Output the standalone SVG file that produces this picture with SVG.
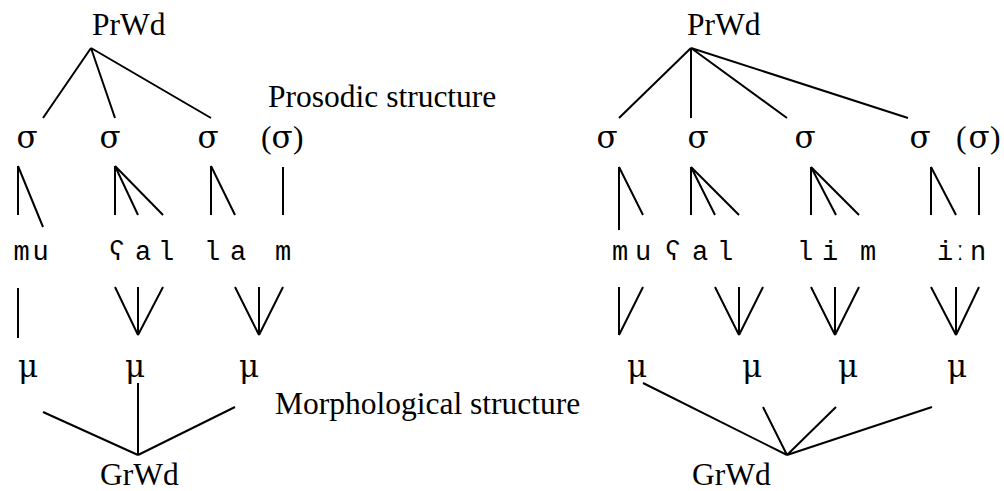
<svg xmlns="http://www.w3.org/2000/svg" width="1004" height="491" viewBox="0 0 1004 491">
<style>
.t{font-family:"Liberation Serif","Times New Roman",serif;font-size:31.5px;fill:#000}
.g{font-family:"DejaVu Serif","Liberation Serif",serif;font-size:31px;fill:#000;text-anchor:middle}
.m{font-family:"Liberation Mono","DejaVu Sans Mono",monospace;font-size:27px;fill:#000;text-anchor:middle}
.e{stroke:#000;stroke-width:2;fill:none;stroke-linecap:butt}
</style>
<rect width="1004" height="491" fill="#fff"/>
<g id="connectors" class="e">
<path d="M91 48L43 118M91 48L115 118M91 48L211 118"/>
<path d="M18 166V215M18 166L43 227"/>
<path d="M115 166V215M115 166L138 215M115 166L163 215"/>
<path d="M211 166V215M211 166L235 215"/>
<path d="M283 167V215"/>
<path d="M18 288V338"/>
<path d="M115 287L138 335M138 287V335M163 287L138 335"/>
<path d="M235 287L259 335M259 287V335M283 287L259 335"/>
<path d="M43 412L138 455M138 383V455M235 407L138 455"/>
<path d="M691 48L619 118M691 48V118M691 48L787 118M691 48L908 118"/>
<path d="M619 167V230M619 167L643 215"/>
<path d="M691 167V215M691 167L715 215M691 167L739 215"/>
<path d="M811 167V215M811 167L836 215M811 167L859 215"/>
<path d="M931 167V215M931 167L956 215"/>
<path d="M979 167V215"/>
<path d="M619 287V335M643 287L619 335"/>
<path d="M715 287L739 335M739 287V335M763 287L739 335"/>
<path d="M811 287L835 335M835 287V335M859 287L835 335"/>
<path d="M931 287L956 335M956 287V335M979 287L956 335"/>
<path d="M643 383L787 455M763 407L787 455M836 407L787 455M932 407L787 455"/>
</g>
<g id="labels">
<text class="t" x="268" y="107">Prosodic structure</text>
<text class="t" x="275" y="414">Morphological structure</text>
</g>
<g id="left-tree">
<g id="L-PrWd"><text class="t" x="92" y="35">PrWd</text></g>
<g id="L-syll">
<text class="g" y="148"><tspan x="27">σ</tspan><tspan x="110">σ</tspan><tspan x="208">σ</tspan></text>
<text class="t" x="261" y="148">(<tspan class="g" x="282">σ</tspan><tspan x="293">)</tspan></text>
</g>
<g id="L-seg">
<text class="m" y="260"><tspan x="21.7">m</tspan><tspan x="40.7">u</tspan></text>
<text class="m" y="260"><tspan x="117">ʕ</tspan><tspan x="143">a</tspan><tspan x="166">l</tspan></text>
<text class="m" y="260"><tspan x="212">l</tspan><tspan x="238">a</tspan><tspan x="283">m</tspan></text>
</g>
<g id="L-mu"><text class="g" y="377"><tspan x="28">μ</tspan><tspan x="135">μ</tspan><tspan x="249">μ</tspan></text></g>
<g id="L-GrWd"><text class="t" x="100" y="485">GrWd</text></g>
</g>
<g id="right-tree">
<g id="R-PrWd"><text class="t" x="687" y="35">PrWd</text></g>
<g id="R-syll">
<text class="g" y="148"><tspan x="607">σ</tspan><tspan x="698">σ</tspan><tspan x="805">σ</tspan><tspan x="920">σ</tspan></text>
<text class="t" x="956" y="148">(<tspan class="g" x="979">σ</tspan><tspan x="990">)</tspan></text>
</g>
<g id="R-seg">
<text class="m" y="260"><tspan x="620">m</tspan><tspan x="643">u</tspan></text>
<text class="m" y="260"><tspan x="673">ʕ</tspan><tspan x="700">a</tspan><tspan x="725">l</tspan></text>
<text class="m" y="260"><tspan x="805">l</tspan><tspan x="830">i</tspan><tspan x="868">m</tspan></text>
<text class="m" y="260"><tspan x="945">i</tspan><tspan x="960">ː</tspan><tspan x="978">n</tspan></text>
</g>
<g id="R-mu"><text class="g" y="377"><tspan x="637">μ</tspan><tspan x="752">μ</tspan><tspan x="848">μ</tspan><tspan x="957">μ</tspan></text></g>
<g id="R-GrWd"><text class="t" x="692" y="485">GrWd</text></g>
</g>
</svg>
